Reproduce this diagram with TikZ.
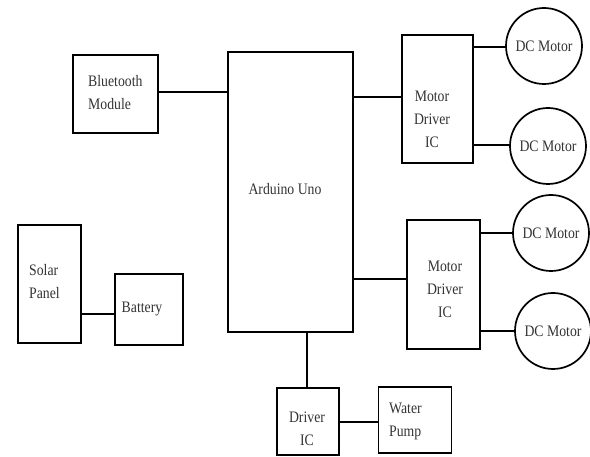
\documentclass[tikz,border=0pt]{standalone}
\usepackage{fontspec}
\setmainfont{Liberation Serif}[FakeStretch=0.86]
\begin{document}
\begin{tikzpicture}[x=1pt,y=-1pt,
  box/.style={draw=black,line width=1.7pt,rectangle,inner sep=0pt},
  motor/.style={draw=black,line width=1.7pt,circle,minimum size=76pt,inner sep=0pt,
     font=\fontsize{16}{23}\selectfont,text=black!80},
  txt/.style={inner sep=0pt,font=\fontsize{16}{23}\selectfont,text=black!80},
  wire/.style={draw=black,line width=1.7pt}]
\useasboundingbox (0,0) rectangle (590,457);
\fill[white] (0,0) rectangle (590,457);
% boxes
\node[box,minimum width=85pt,minimum height=78pt] (bt) at (115.5,94) {};
\node[box,minimum width=125pt,minimum height=280pt] (ard) at (290.5,192) {};
\node[box,minimum width=71pt,minimum height=128pt] (md1) at (437.5,99) {};
\node[box,minimum width=73pt,minimum height=129pt] (md2) at (443.5,284.5) {};
\node[box,minimum width=63pt,minimum height=118pt] (sp) at (49.5,284) {};
\node[box,minimum width=68pt,minimum height=71pt] (bat) at (149,309.5) {};
\node[box,minimum width=62pt,minimum height=67pt] (dic) at (308,421.5) {};
\node[box,minimum width=73pt,minimum height=66pt] (wp) at (415,420) {};
% motors
\node[motor] (m1) at (544,46) {DC Motor};
\node[motor] (m2) at (548,146) {DC Motor};
\node[motor] (m3) at (551,233) {DC Motor};
\node[motor] (m4) at (553,331) {DC Motor};
% texts
\node[txt,anchor=west,align=left] (tbt) at (88,93) {Bluetooth\\Module};
\node[txt] (tard) at (285,189) {Arduino Uno};
\node[txt,align=center] (tmd1) at (432,119) {Motor\\Driver\\IC};
\node[txt,align=center] (tmd2) at (445,289) {Motor\\Driver\\IC};
\node[txt,anchor=west,align=left] (tsp) at (29,282) {Solar\\Panel};
\node[txt] (tbat) at (142,309) {Battery};
\node[txt,align=center] (tdic) at (307,429) {Driver\\IC};
\node[txt,anchor=west,align=left] (twp) at (389,421) {Water\\Pump};
% connectors
\draw[wire] (bt.east |- 0,92) -- (ard.west |- 0,92);
\draw[wire] (ard.east |- 0,97) -- (md1.west |- 0,97);
\draw[wire] (ard.east |- 0,279) -- (md2.west |- 0,279);
\draw[wire] (md1.east |- 0,47) -- (m1.west |- 0,47);
\draw[wire] (md1.east |- 0,145) -- (m2.west |- 0,145);
\draw[wire] (md2.east |- 0,233) -- (m3.west |- 0,233);
\draw[wire] (md2.east |- 0,331) -- (m4.west |- 0,331);
\draw[wire] (sp.east |- 0,314) -- (bat.west |- 0,314);
\draw[wire] (ard.south -| 307,0) -- (dic.north -| 307,0);
\draw[wire] (dic.east |- 0,422) -- (wp.west |- 0,422);
\end{tikzpicture}
\end{document}
